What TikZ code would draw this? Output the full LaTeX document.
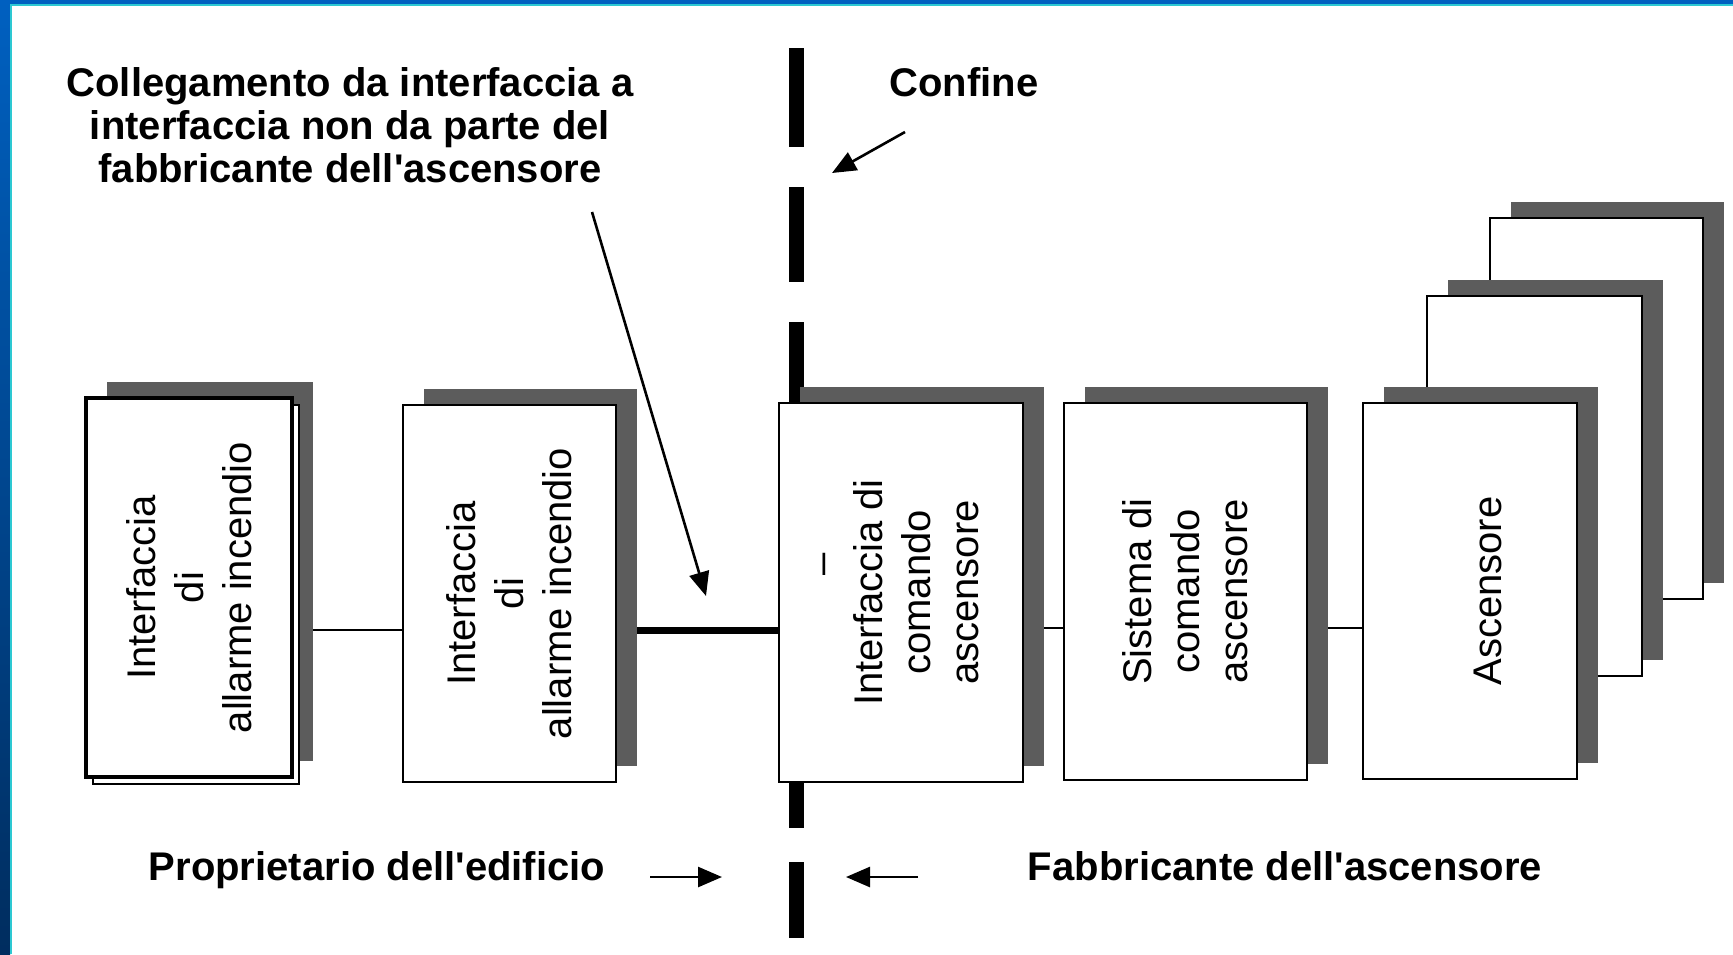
\documentclass[tikz,border=0pt]{standalone}
\usepackage{fontspec}
\setmainfont{Liberation Sans}[Ligatures=TeXOff]
\usetikzlibrary{arrows.meta,calc,shadows}

\pgfdeclarelayer{background}
\pgfsetlayers{background,main}

\definecolor{frameblue}{RGB}{0,96,192}
\definecolor{framenavy}{RGB}{0,45,95}
\definecolor{framecyan}{RGB}{45,200,210}

\tikzset{
  unitbox/.style={draw, line width=1.3pt, fill=white, inner sep=0pt,
    general shadow={fill=black!64, draw=none, shadow xshift=10.25pt, shadow yshift=8.25pt}},
  boxtext/.style={rotate=90, font=\fontsize{20}{24}\selectfont, align=center, inner sep=0pt},
  note/.style={font=\bfseries\fontsize{20}{21.5}\selectfont, align=center, inner sep=0pt},
  link/.style={line width=1pt},
  pointer/.style={line width=1.3pt, -{Triangle[length=12pt,width=10pt]}},
  border/.style={line width=7.5pt},
}

\begin{document}
\begin{tikzpicture}[x=0.5pt,y=-0.5pt]
    \useasboundingbox (0,0) rectangle (1733,954);

    % draw page and frame
    \begin{pgfonlayer}{background}
        \fill[white] (0,0) rectangle (1733,954);
        \fill[frameblue] (0,0) rectangle (1733,4);
        \fill[framecyan] (0,4) rectangle (1733,6);
        \shade[top color=frameblue, bottom color=framenavy] (0,0) rectangle (10,954);
        \fill[framecyan] (10,4) rectangle (12,954);
    \end{pgfonlayer}

    % draw boxes, back to front
    \node[unitbox, minimum width=106.5pt, minimum height=190.5pt] (b7) at (1596.5,408.5) {};
    \node[unitbox, minimum width=107.5pt, minimum height=190pt] (b6) at (1534.5,486) {};
    \node[unitbox, minimum width=107pt, minimum height=188pt] (b5) at (1470,591) {};
    \node[unitbox, minimum width=121.5pt, minimum height=188.5pt] (b4) at (1185.5,591.5) {};
    \node[unitbox, minimum width=122pt, minimum height=189.5pt] (b3) at (901,592.5) {};
    \node[unitbox, minimum width=106.5pt, minimum height=188.5pt] (b2) at (509.5,593.5) {};
    \node[unitbox, line width=2pt, minimum width=103pt, minimum height=189.5pt,
        general shadow={fill=white, draw, line width=1.3pt, shadow xshift=3.5pt, shadow yshift=-3.5pt}] (b1) at (189,587.5) {};

    % draw box texts
    \node[boxtext] (b1text) at (b1) {Interfaccia\\di\\allarme incendio};
    \node[boxtext] (b2text) at (b2) {Interfaccia\\di\\allarme incendio};
    \node[boxtext] (b3text) at (b3) {\hspace*{28pt}–\\Interfaccia di\\comando\\ascensore};
    \node[boxtext] (b4text) at (b4) {Sistema di\\comando\\ascensore};
    \node[boxtext] (b5text) at ([xshift=9pt]b5.center) {Ascensore};

    % draw connections and boundary
    \begin{pgfonlayer}{background}
        \foreach \a/\b/\y in {b1/b2/630, b3/b4/628, b4/b5/628}
        \draw[link] (\a.east |- 0,\y) -- (\b.west |- 0,\y);
        \draw[link, line width=3.5pt] (b2.east |- 0,630) -- (b3.west |- 0,630);
        \foreach \ya/\yb in {48/147, 187/282, 322/828, 862/938}
        \draw[border] (796,\ya) -- (796,\yb);
    \end{pgfonlayer}

    % draw notes
    \node[note, anchor=north] (collnote) at (350,67) {Collegamento da interfaccia a\\interfaccia non da parte del\\fabbricante dell'ascensore};
    \node[note, anchor=base] (confine) at (964,96) {Confine};
    \node[note, anchor=base] (owner) at (377,880) {Proprietario dell'edificio};
    \node[note, anchor=base] (maker) at (1285,880) {Fabbricante dell'ascensore};

    % draw arrows
    \coordinate (collfoot) at (592,212);
    \coordinate (colltip) at (706,596);
    \coordinate (conftail) at (905,132);
    \coordinate (conftip) at (832,173);
    \coordinate (ownertail) at (650,877);
    \coordinate (ownertip) at (722,877);
    \coordinate (makertail) at (918,877);
    \coordinate (makertip) at (846,877);
    \draw[pointer] (collfoot) -- (colltip);
    \draw[pointer] (conftail) -- (conftip);
    \draw[pointer] (ownertail) -- (ownertip);
    \draw[pointer] (makertail) -- (makertip);
\end{tikzpicture}
\end{document}
